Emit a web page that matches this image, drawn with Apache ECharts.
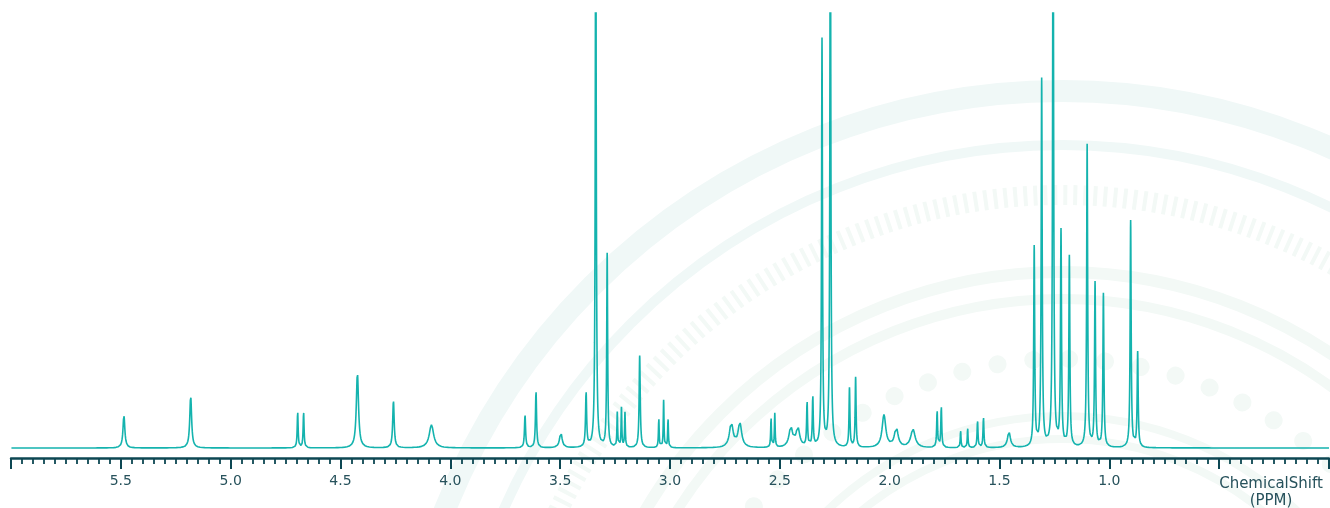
<!DOCTYPE html>
<html>
<head>
<meta charset="utf-8">
<script src="https://cdn.jsdelivr.net/npm/echarts@6/dist/echarts.min.js"></script>
<style>
html,body{margin:0;padding:0;background:#ffffff;}
#chart{width:1330px;height:508px;}
</style>
</head>
<body>
<div id="chart"></div>
<script>
// Peak list
const peakShift = [5.486,5.182,4.695,4.668,4.423,4.259,4.086,3.660,3.610,3.497,3.382,3.338,3.286,3.240,3.221,3.205,3.138,3.051,3.029,3.009,2.721,2.682,2.540,2.523,2.450,2.418,2.376,2.350,2.308,2.270,2.183,2.155,2.026,1.970,1.894,1.784,1.765,1.677,1.645,1.600,1.573,1.457,1.342,1.308,1.256,1.220,1.182,1.101,1.065,1.027,0.903,0.871];
const peakHeight = [0.076,0.120,0.083,0.083,0.172,0.108,0.053,0.076,0.131,0.035,0.126,1.4,0.445,0.080,0.091,0.080,0.212,0.068,0.109,0.068,0.056,0.055,0.069,0.078,0.045,0.044,0.103,0.116,0.936,1.4,0.136,0.161,0.075,0.045,0.042,0.085,0.095,0.040,0.046,0.062,0.070,0.036,0.459,0.844,1.4,0.494,0.438,0.695,0.377,0.353,0.522,0.219];
const peakHalfWidth = [0.005,0.005,0.0025,0.0025,0.006,0.004,0.012,0.003,0.003,0.007,0.003,0.0025,0.0025,0.002,0.002,0.002,0.003,0.002,0.002,0.002,0.010,0.010,0.002,0.002,0.010,0.010,0.0025,0.0025,0.0025,0.0025,0.0025,0.0025,0.010,0.010,0.012,0.0025,0.0025,0.002,0.002,0.0025,0.0025,0.008,0.0027,0.0027,0.0027,0.0027,0.0027,0.0027,0.0027,0.0027,0.0027,0.0027];
const axisLabelsShown = [1.0,1.5,2.0,2.5,3.0,3.5,4.0,4.5,5.0,5.5];
const axisTitle = 'ChemicalShift\n(PPM)';

// Build the spectrum trace (Lorentzian line shape for each listed peak)
const xs = [];
for (let i = 0; i <= 12000; i++) xs.push(i * 0.0005);
peakShift.forEach(p => xs.push(p));
xs.sort((a, b) => a - b);
const spectrum = xs.map(x => {
  let y = 0;
  for (let k = 0; k < peakShift.length; k++) {
    const d = x - peakShift[k], g = peakHalfWidth[k];
    y += peakHeight[k] * g * g / (d * d + g * g);
  }
  return [x, y];
});

const chart = echarts.init(document.getElementById('chart'), null, {renderer: 'canvas'});
const axisColor = '#0d4753';
const wmBlue = '#f0f8f7';
const wm = '#f3f9f6';
const cx = 1062, cy = 755;
chart.setOption({
  animation: false,
  backgroundColor: '#ffffff',
  grid: {left: 11, right: 1, top: 13, bottom: 50, outerBoundsMode: 'none'},
  xAxis: {
    type: 'value', min: 0, max: 6, interval: 0.5, inverse: true,
    axisLine: {onZero: false, lineStyle: {color: axisColor, width: 2.5}},
    axisTick: {length: 11, lineStyle: {color: axisColor, width: 2}},
    minorTick: {show: true, splitNumber: 10, length: 6, lineStyle: {color: axisColor, width: 1.8}},
    splitLine: {show: false},
    minorSplitLine: {show: false},
    axisLabel: {
      margin: 16, color: '#27525c', fontSize: 14, fontFamily: 'DejaVu Sans',
      formatter: v => axisLabelsShown.some(t => Math.abs(t - v) < 1e-6) ? v.toFixed(1) : ''
    }
  },
  yAxis: {type: 'value', min: -0.023, max: 1, show: false},
  graphic: [
    {type: 'circle', silent: true, z: -10, shape: {cx, cy, r: 664}, style: {fill: 'none', stroke: wmBlue, lineWidth: 22}},
    {type: 'circle', silent: true, z: -10, shape: {cx, cy, r: 610}, style: {fill: 'none', stroke: wmBlue, lineWidth: 10}},
    {type: 'circle', silent: true, z: -10, shape: {cx, cy, r: 560}, style: {fill: 'none', stroke: wm, lineWidth: 20, lineDash: [4, 6]}},
    {type: 'circle', silent: true, z: -10, shape: {cx, cy, r: 483}, style: {fill: 'none', stroke: wm, lineWidth: 12}},
    {type: 'circle', silent: true, z: -10, shape: {cx, cy, r: 456}, style: {fill: 'none', stroke: wm, lineWidth: 10}},
    {type: 'circle', silent: true, z: -10, shape: {cx, cy, r: 396}, style: {fill: 'none', stroke: wm, lineWidth: 18, lineDash: [0.01, 36], lineCap: 'round'}},
    {type: 'circle', silent: true, z: -10, shape: {cx, cy, r: 339}, style: {fill: 'none', stroke: wm, lineWidth: 8}},
    {type: 'circle', silent: true, z: -10, shape: {cx, cy, r: 316}, style: {fill: 'none', stroke: wm, lineWidth: 8}},
    {type: 'text', silent: true, z: 10, x: 1271, y: 476,
     style: {text: axisTitle, fill: '#27525c', fontSize: 15, fontFamily: 'DejaVu Sans', align: 'center', verticalAlign: 'top', lineHeight: 17}}
  ],
  series: [{
    type: 'line', data: spectrum, showSymbol: false, symbol: 'none', silent: true,
    clip: true, sampling: null, z: 5,
    lineStyle: {color: '#14b3ae', width: 1.6}
  }]
});
</script>
</body>
</html>
